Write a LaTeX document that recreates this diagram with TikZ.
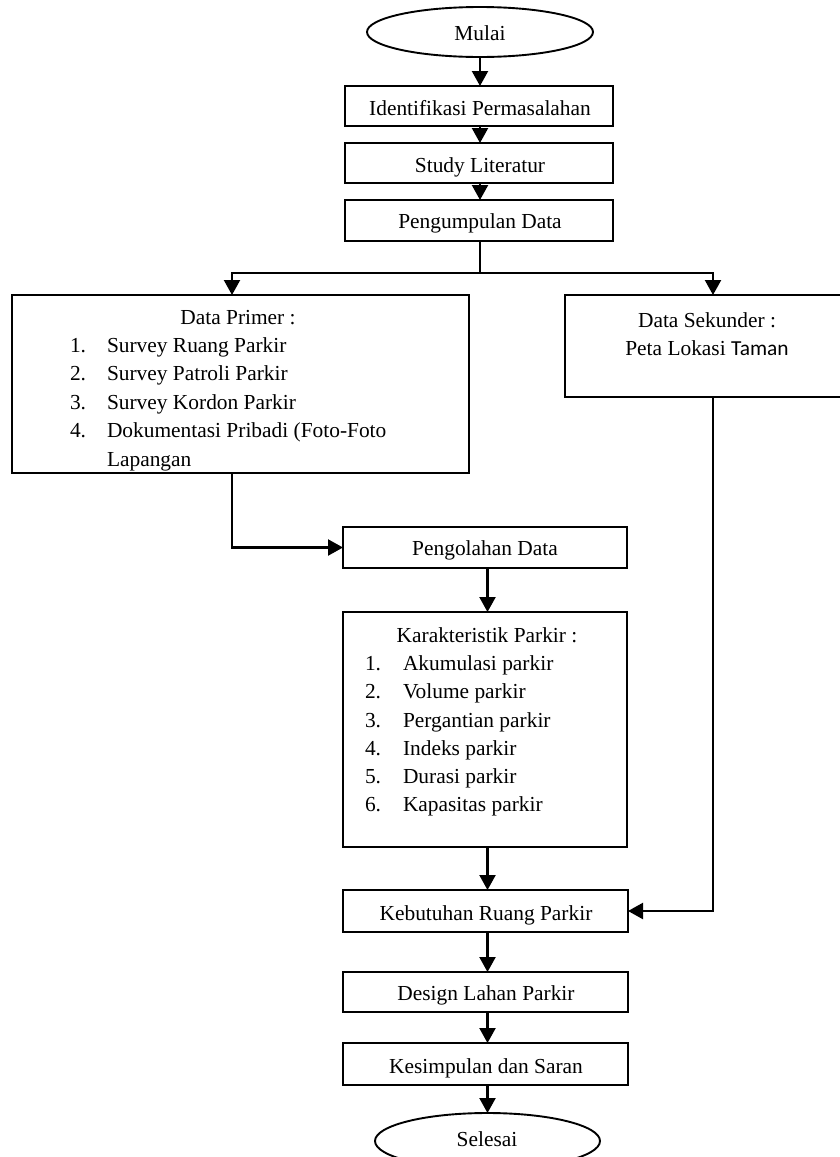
\documentclass[tikz,border=0pt]{standalone}
\usepackage{fontspec}
\setmainfont{Liberation Serif}
\newfontfamily\calibri{Carlito}
\usetikzlibrary{arrows.meta,shapes.geometric,calc}
\begin{document}
\begin{tikzpicture}[x=1pt,y=-1pt,
  every node/.style={inner sep=0pt,outer sep=0pt},
  box/.style={draw,line width=1.9pt,rectangle},
  oval/.style={draw,line width=1.9pt,ellipse},
  txt/.style={anchor=base,font=\fontsize{21.4}{26}\selectfont},
  ltxt/.style={anchor=base west,font=\fontsize{21.4}{26}\selectfont},
  conn/.style={line width=2.2pt},
  arr/.style={line width=2.2pt,-{Triangle[length=15pt,width=16pt]}}]
\useasboundingbox (0,0) rectangle (839,1157);
% shapes
\node[oval,minimum width=226pt,minimum height=50pt] (mulai) at (480,32) {};
\node[box,minimum width=268pt,minimum height=40pt] (b1) at (479,106) {};
\node[box,minimum width=268pt,minimum height=40pt] (b2) at (479,163) {};
\node[box,minimum width=268pt,minimum height=41pt] (b3) at (479,220.5) {};
\node[box,minimum width=457pt,minimum height=178pt] (prim) at (240.5,384) {};
\node[box,minimum width=285pt,minimum height=102pt] (sek) at (707.5,346) {};
\node[box,minimum width=284pt,minimum height=41pt] (peng) at (485,547.5) {};
\node[box,minimum width=284pt,minimum height=235pt] (kar) at (485,729.5) {};
\node[box,minimum width=285pt,minimum height=42pt] (keb) at (485.5,911) {};
\node[box,minimum width=285pt,minimum height=40pt] (des) at (485.5,992) {};
\node[box,minimum width=285pt,minimum height=42pt] (kes) at (485.5,1064) {};
\node[oval,minimum width=225pt,minimum height=56pt] (sel) at (487.5,1141) {};
% texts
\node[txt] (tmulai) at (480,40) {Mulai};
\node[txt] (t1) at (480,115) {Identifikasi Permasalahan};
\node[txt] (t2) at (480,172) {Study Literatur};
\node[txt] (t3) at (480,228) {Pengumpulan Data};
\node[txt] (tp0) at (238,324) {Data Primer :};
\node[ltxt] (tp1n) at (70,352) {1.};
\node[ltxt] (tp1) at (107,352) {Survey Ruang Parkir};
\node[ltxt] (tp2n) at (70,380.5) {2.};
\node[ltxt] (tp2) at (107,380.5) {Survey Patroli Parkir};
\node[ltxt] (tp3n) at (70,409) {3.};
\node[ltxt] (tp3) at (107,409) {Survey Kordon Parkir};
\node[ltxt] (tp4n) at (70,437.5) {4.};
\node[ltxt] (tp4) at (107,437.5) {Dokumentasi Pribadi (Foto-Foto};
\node[ltxt] (tp5) at (107,466) {Lapangan};
\node[txt] (ts0) at (707,327) {Data Sekunder :};
\node[txt] (ts1) at (707,355) {Peta Lokasi {\calibri Taman}};
\node[txt] (tpeng) at (485,555) {Pengolahan Data};
\node[txt] (tk0) at (487,642) {Karakteristik Parkir :};
\node[ltxt] (tk1n) at (365,670) {1.};
\node[ltxt] (tk1) at (403,670) {Akumulasi parkir};
\node[ltxt] (tk2n) at (365,698.5) {2.};
\node[ltxt] (tk2) at (403,698.5) {Volume parkir};
\node[ltxt] (tk3n) at (365,727) {3.};
\node[ltxt] (tk3) at (403,727) {Pergantian parkir};
\node[ltxt] (tk4n) at (365,755) {4.};
\node[ltxt] (tk4) at (403,755) {Indeks parkir};
\node[ltxt] (tk5n) at (365,783) {5.};
\node[ltxt] (tk5) at (403,783) {Durasi parkir};
\node[ltxt] (tk6n) at (365,811) {6.};
\node[ltxt] (tk6) at (403,811) {Kapasitas parkir};
\node[txt] (tkeb) at (486,920) {Kebutuhan Ruang Parkir};
\node[txt] (tdes) at (486,1000) {Design Lahan Parkir};
\node[txt] (tkes) at (486,1073) {Kesimpulan dan Saran};
\node[txt] (tsel) at (487,1146) {Selesai};
% connectors
\coordinate (j1) at (480,273);
\coordinate (jL) at (232,273);
\coordinate (jR) at (713,273);
\coordinate (pout) at (232,473);
\coordinate (sout) at (713,397);
\draw[arr] (mulai.south) -- (mulai.south |- b1.north);
\draw[arr] (b1.south -| mulai.south) -- (b2.north -| mulai.south);
\draw[arr] (b2.south -| mulai.south) -- (b3.north -| mulai.south);
\draw[conn] (b3.south -| mulai.south) -- (j1);
\draw[arr] (j1) -- (jL) -- (jL |- prim.north);
\draw[arr] (j1) -- (jR) -- (jR |- sek.north);
\draw[arr] (pout) |- (peng.west);
\draw[arr] (sout) |- (keb.east);
\draw[arr] (peng.south -| sel.center) -- (kar.north -| sel.center);
\draw[arr] (kar.south -| sel.center) -- (keb.north -| sel.center);
\draw[arr] (keb.south -| sel.center) -- (des.north -| sel.center);
\draw[arr] (des.south -| sel.center) -- (kes.north -| sel.center);
\draw[arr] (kes.south -| sel.center) -- (sel.north);
\end{tikzpicture}
\end{document}
